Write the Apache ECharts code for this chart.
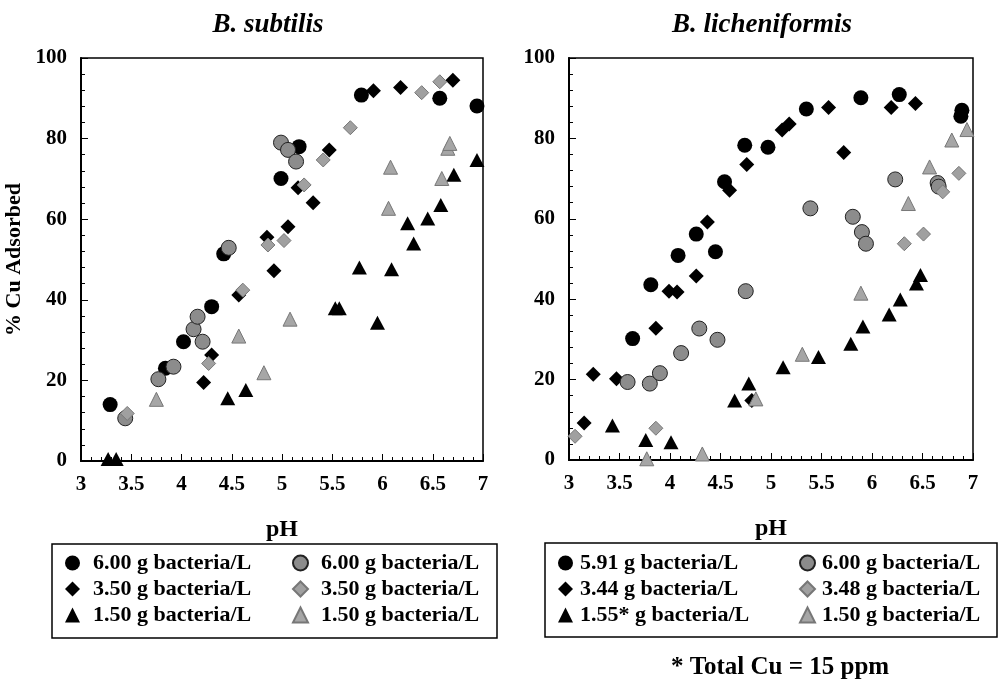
<!DOCTYPE html>
<html>
<head>
<meta charset="utf-8">
<script src="https://cdn.jsdelivr.net/npm/echarts@6/dist/echarts.min.js"></script>
<style>
html,body{margin:0;padding:0;background:#fff;}
#chart{width:999px;height:685px;}
</style>
</head>
<body>
<div id="chart"></div>
<script>
// ---- Data: [pH, % Cu adsorbed] ----
// B. subtilis
const subBlackCircle = [[3.29,14],[3.84,23],[4.02,29.6],[4.30,38.3],[4.42,51.4],[4.99,70.1],[5.17,78],[5.79,90.8],[6.57,90],[6.94,88.1]];
const subBlackDiamond = [[4.22,19.5],[4.30,26.3],[4.57,41.2],[4.85,55.5],[4.92,47.2],[5.06,58.1],[5.16,67.8],[5.31,64.1],[5.47,77.2],[5.91,91.9],[6.18,92.7],[6.70,94.5]];
const subBlackTriangle = [[3.27,0.5],[3.35,0.5],[4.46,15.6],[4.64,17.6],[5.53,37.9],[5.57,37.9],[5.77,48],[5.95,34.3],[6.09,47.6],[6.25,59],[6.31,54],[6.45,60.2],[6.58,63.5],[6.71,71],[6.94,74.7]];
const subGrayCircle = [[3.44,10.6],[3.77,20.3],[3.92,23.4],[4.12,32.7],[4.16,35.8],[4.21,29.6],[4.47,52.9],[4.99,79],[5.06,77.2],[5.14,74.3]];
const subGrayDiamond = [[3.46,11.8],[4.27,24.2],[4.61,42.4],[4.86,53.6],[5.02,54.7],[5.22,68.5],[5.41,74.7],[5.68,82.7],[6.39,91.4],[6.57,94.1]];
const subGrayTriangle = [[3.75,15.3],[4.57,31],[4.82,21.9],[5.08,35.2],[6.06,62.7],[6.08,72.9],[6.59,70.1],[6.65,77.6],[6.67,78.8]];
// B. licheniformis
const licBlackCircle = [[3.63,30.2],[3.81,43.6],[4.08,50.9],[4.26,56.2],[4.45,51.8],[4.54,69.2],[4.74,78.3],[4.97,77.8],[5.35,87.3],[5.89,90.1],[6.27,90.9],[6.89,87],[6.88,85.5]];
const licBlackDiamond = [[3.15,9.2],[3.24,21.3],[3.47,20.2],[3.86,32.8],[3.99,42],[4.07,41.8],[4.26,45.8],[4.37,59.2],[4.59,67.1],[4.76,73.5],[4.81,14.8],[5.11,82.1],[5.18,83.6],[5.57,87.7],[5.72,76.5],[6.19,87.7],[6.43,88.7]];
const licBlackTriangle = [[3.43,8.6],[3.76,5],[4.01,4.4],[4.64,14.8],[4.78,19],[5.12,23.1],[5.47,25.6],[5.79,28.9],[5.91,33.2],[6.17,36.2],[6.28,39.9],[6.44,43.9],[6.48,46]];
const licGrayCircle = [[3.58,19.4],[3.80,19],[3.90,21.6],[4.11,26.6],[4.29,32.7],[4.47,29.9],[4.75,42],[5.39,62.6],[5.81,60.5],[5.90,56.7],[5.94,53.8],[6.23,69.8],[6.65,68.9],[6.66,68]];
const licGrayDiamond = [[3.06,5.9],[3.86,7.9],[6.32,53.8],[6.51,56.2],[6.70,66.7],[6.86,71.3]];
const licGrayTriangle = [[3.77,0.3],[4.32,1.5],[4.85,15.2],[5.31,26.3],[5.89,41.5],[6.36,63.8],[6.57,72.9],[6.79,79.6],[6.94,82.2]];

// Legend labels
const subLabels = {sBC:'6.00 g bacteria/L', sBD:'3.50 g bacteria/L', sBT:'1.50 g bacteria/L',
                   sGC:'6.00 g bacteria/L', sGD:'3.50 g bacteria/L', sGT:'1.50 g bacteria/L'};
const licLabels = {lBC:'5.91 g bacteria/L', lBD:'3.44 g bacteria/L', lBT:'1.55* g bacteria/L',
                   lGC:'6.00 g bacteria/L', lGD:'3.48 g bacteria/L', lGT:'1.50 g bacteria/L'};
const allLabels = Object.assign({}, subLabels, licLabels);

const titles = ['B. subtilis', 'B. licheniformis'];
const xTicks = {min:3, max:7, interval:0.5};
const yTicks = {min:0, max:100, interval:20};

const FONT = 'Liberation Serif';

const styles = {
  BC: {symbol:'circle', symbolSize:15, itemStyle:{color:'#000', opacity:1}},
  BD: {symbol:'diamond', symbolSize:[15,15], itemStyle:{color:'#000', opacity:1}},
  BT: {symbol:'triangle', symbolSize:[15,14], itemStyle:{color:'#000', opacity:1}},
  GC: {symbol:'circle', symbolSize:15, itemStyle:{color:'#8c8c8c', borderColor:'#222', borderWidth:1, opacity:1}},
  GD: {symbol:'diamond', symbolSize:[14,14], itemStyle:{color:'#a0a0a0', borderColor:'#777', borderWidth:1, opacity:1}},
  GT: {symbol:'triangle', symbolSize:[14,14], itemStyle:{color:'#a6a6a6', borderColor:'#777', borderWidth:1, opacity:1}}
};

function mkSeries(name, key, data, idx) {
  return Object.assign({type:'scatter', name:name, data:data, xAxisIndex:idx, yAxisIndex:idx, clip:false,
    emphasis:{disabled:true}}, JSON.parse(JSON.stringify(styles[key])));
}

function xAxis(idx) {
  return {gridIndex:idx, type:'value', min:xTicks.min, max:xTicks.max, interval:xTicks.interval,
    name:'pH', nameLocation:'middle', nameGap:57,
    nameTextStyle:{fontFamily:FONT, fontWeight:'bold', fontSize:24, color:'#000'},
    axisLine:{lineStyle:{color:'#000', width:2}},
    axisTick:{inside:true, length:7, lineStyle:{color:'#000', width:1}},
    minorTick:{show:true, splitNumber:5, length:4, lineStyle:{color:'#000', width:1}},
    splitLine:{show:false},
    axisLabel:{fontFamily:FONT, fontWeight:'bold', fontSize:21, color:'#000', margin:13}};
}
function yAxis(idx, showName) {
  return {gridIndex:idx, type:'value', min:yTicks.min, max:yTicks.max, interval:yTicks.interval,
    name: showName ? '% Cu Adsorbed' : '', nameLocation:'middle', nameGap:56, nameRotate:90,
    nameTextStyle:{fontFamily:FONT, fontWeight:'bold', fontSize:22, color:'#000'},
    axisLine:{lineStyle:{color:'#000', width:2}},
    axisTick:{inside:true, length:7, lineStyle:{color:'#000', width:1}},
    minorTick:{show:true, splitNumber:5, length:4, lineStyle:{color:'#000', width:1}},
    splitLine:{show:false},
    axisLabel:{fontFamily:FONT, fontWeight:'bold', fontSize:21, color:'#000', margin:14}};
}

function legend(names, left, textPad) {
  return {data:names, orient:'vertical', left:left, top:550, padding:0, itemGap:0,
    itemWidth:15, itemHeight:15, selectedMode:false,
    formatter:function(n){return allLabels[n];},
    textStyle:{fontFamily:FONT, fontWeight:'bold', fontSize:22, color:'#000', lineHeight:26, padding:[0,0,0,textPad]}};
}

const chart = echarts.init(document.getElementById('chart'), null, {renderer:'canvas'});
chart.setOption({
  animation:false,
  backgroundColor:'#fff',
  grid:[
    {left:81, top:58, width:402, height:403, show:true, borderColor:'#000', borderWidth:1.5, backgroundColor:'transparent'},
    {left:569, top:58, width:404, height:402, show:true, borderColor:'#000', borderWidth:1.5, backgroundColor:'transparent'}
  ],
  xAxis:[xAxis(0), xAxis(1)],
  yAxis:[yAxis(0, true), yAxis(1, false)],
  legend:[
    legend(['sBC','sBD','sBT'], 65, 8),
    legend(['sGC','sGD','sGT'], 292, 8),
    legend(['lBC','lBD','lBT'], 558, 2),
    legend(['lGC','lGD','lGT'], 799, 2)
  ],
  graphic:[
    {type:'text', x:268, y:25, style:{text:titles[0], font:'italic bold 27px "Liberation Serif"', fill:'#000', textAlign:'center', textVerticalAlign:'middle'}},
    {type:'text', x:762, y:25, style:{text:titles[1], font:'italic bold 27px "Liberation Serif"', fill:'#000', textAlign:'center', textVerticalAlign:'middle'}},
    {type:'rect', shape:{x:52, y:544, width:445, height:94}, style:{fill:'none', stroke:'#000', lineWidth:1.5}, z:-1},
    {type:'rect', shape:{x:545, y:543, width:452, height:94}, style:{fill:'none', stroke:'#000', lineWidth:1.5}, z:-1},
    {type:'text', x:780, y:668, style:{text:'* Total Cu = 15 ppm', font:'bold 25px "Liberation Serif"', fill:'#000', textAlign:'center', textVerticalAlign:'middle'}}
  ],
  series:[
    mkSeries('sBC','BC',subBlackCircle,0),
    mkSeries('sBD','BD',subBlackDiamond,0),
    mkSeries('sBT','BT',subBlackTriangle,0),
    mkSeries('sGC','GC',subGrayCircle,0),
    mkSeries('sGD','GD',subGrayDiamond,0),
    mkSeries('sGT','GT',subGrayTriangle,0),
    mkSeries('lBC','BC',licBlackCircle,1),
    mkSeries('lBD','BD',licBlackDiamond,1),
    mkSeries('lBT','BT',licBlackTriangle,1),
    mkSeries('lGC','GC',licGrayCircle,1),
    mkSeries('lGD','GD',licGrayDiamond,1),
    mkSeries('lGT','GT',licGrayTriangle,1)
  ]
});
</script>
</body>
</html>
